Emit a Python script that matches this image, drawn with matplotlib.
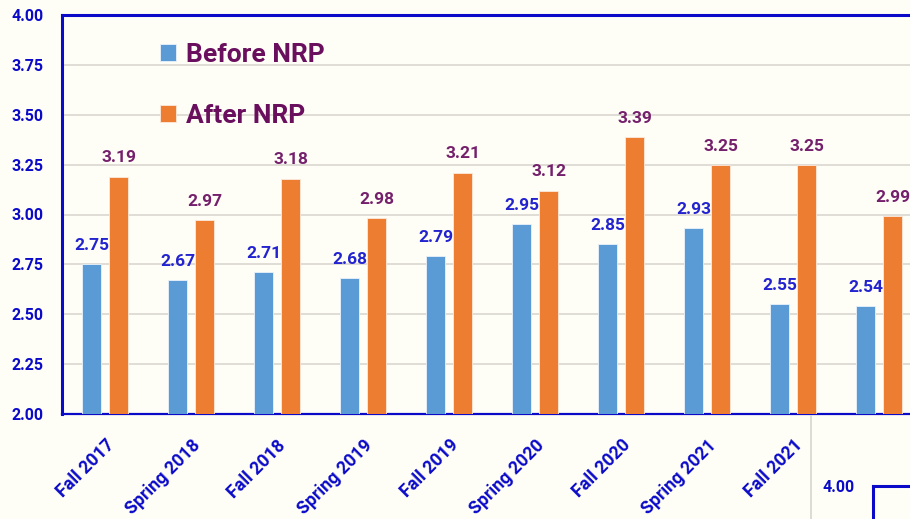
import matplotlib.pyplot as plt
import numpy as np

# semesters and mean scores
semesters = ['Fall 2017', 'Spring 2018', 'Fall 2018', 'Spring 2019', 'Fall 2019',
             'Spring 2020', 'Fall 2020', 'Spring 2021', 'Fall 2021', 'Spring 2022']
before_nrp = [2.75, 2.67, 2.71, 2.68, 2.79, 2.95, 2.85, 2.93, 2.55, 2.54]
after_nrp = [3.19, 2.97, 3.18, 2.98, 3.21, 3.12, 3.39, 3.25, 3.25, 2.99]
yticks = [2.00, 2.25, 2.50, 2.75, 3.00, 3.25, 3.50, 3.75, 4.00]

BG = '#FFFEF6'
BLUE = '#5B9BD5'
ORANGE = '#ED7D31'
AXIS_BLUE = '#0A0AC8'
LABEL_BLUE = '#2323CF'
PURPLE = '#74206C'
FONT = 'Roboto'

fig = plt.figure(figsize=(9.1, 5.19), dpi=100, facecolor=BG)
ax = fig.add_axes([62/910, 105/519, 1 - 62/910, 399/519])
ax.set_facecolor(BG)

x = np.arange(len(semesters))
w = 0.22
off = 0.157
b1 = ax.bar(x - off, before_nrp, w, color=BLUE, edgecolor='#EAF2FA', linewidth=0.6,
            label='Before NRP', zorder=3)
b2 = ax.bar(x + off, after_nrp, w, color=ORANGE, edgecolor='#FCE9DC', linewidth=0.6,
            label='After NRP', zorder=3)

for xi, v in zip(x - off, before_nrp):
    ax.annotate('%.2f' % v, (xi, v), xytext=(0, 8), textcoords='offset points',
                ha='center', va='bottom', color=LABEL_BLUE, fontsize=12.5,
                fontweight='bold', family=FONT)
for xi, v in zip(x + off, after_nrp):
    ax.annotate('%.2f' % v, (xi, v), xytext=(0, 8), textcoords='offset points',
                ha='center', va='bottom', color=PURPLE, fontsize=12.5,
                fontweight='bold', family=FONT)

ax.set_ylim(2, 4)
ax.set_xlim(-0.5, -0.5 + 848/86)
ax.set_yticks(yticks)
ax.set_yticklabels(['%.2f' % t for t in yticks])
ax.set_xticks(x)
ax.set_xticklabels(semesters, rotation=45, ha='right', rotation_mode='anchor')
ax.tick_params(axis='both', length=0, colors=AXIS_BLUE, labelsize=11.5)
ax.tick_params(axis='y', pad=13)
ax.tick_params(axis='x', pad=16, labelsize=12.8)
for lab in ax.get_xticklabels() + ax.get_yticklabels():
    lab.set_fontweight('bold')
    lab.set_family(FONT)

ax.grid(axis='y', color='#DAD6D0', linewidth=1.2, zorder=0)
ax.spines['right'].set_visible(False)
ax.spines['left'].set_color(AXIS_BLUE)
ax.spines['left'].set_linewidth(2.2)
ax.spines['top'].set_color(AXIS_BLUE)
ax.spines['top'].set_linewidth(2.2)
ax.spines['bottom'].set_color(AXIS_BLUE)
ax.spines['bottom'].set_linewidth(1.6)

leg = ax.legend(loc='upper left', bbox_to_anchor=(0.115, 0.93), frameon=False,
                handlelength=0.62, handleheight=0.62, handletextpad=0.4,
                labelspacing=1.4, borderpad=0, borderaxespad=0,
                prop={'family': FONT, 'weight': 'bold', 'size': 19})
for t in leg.get_texts():
    t.set_color('#6A0E5E')

# piece of another chart pasted over the bottom right corner
ov = fig.add_axes([811/910, 0, 99/910, 103/519])
ov.set_facecolor(BG)
ov.set_xticks([])
ov.set_yticks([])
for s in ['top', 'right', 'bottom']:
    ov.spines[s].set_visible(False)
ov.spines['left'].set_color('#D8D4CE')
ov.spines['left'].set_linewidth(1.2)

inner = fig.add_axes([873/910, 0, 37/910, 33/519])
inner.set_facecolor(BG)
inner.set_ylim(2, 4)
inner.set_yticks([4.0])
inner.set_yticklabels(['4.00'])
inner.set_xticks([])
inner.tick_params(axis='y', length=0, colors=AXIS_BLUE, labelsize=11.5, pad=13)
for lab in inner.get_yticklabels():
    lab.set_fontweight('bold')
    lab.set_family(FONT)
for s in ['right', 'bottom']:
    inner.spines[s].set_visible(False)
for s in ['left', 'top']:
    inner.spines[s].set_color(AXIS_BLUE)
    inner.spines[s].set_linewidth(2.2)

fig.savefig('out.png', dpi=100, facecolor=BG)
